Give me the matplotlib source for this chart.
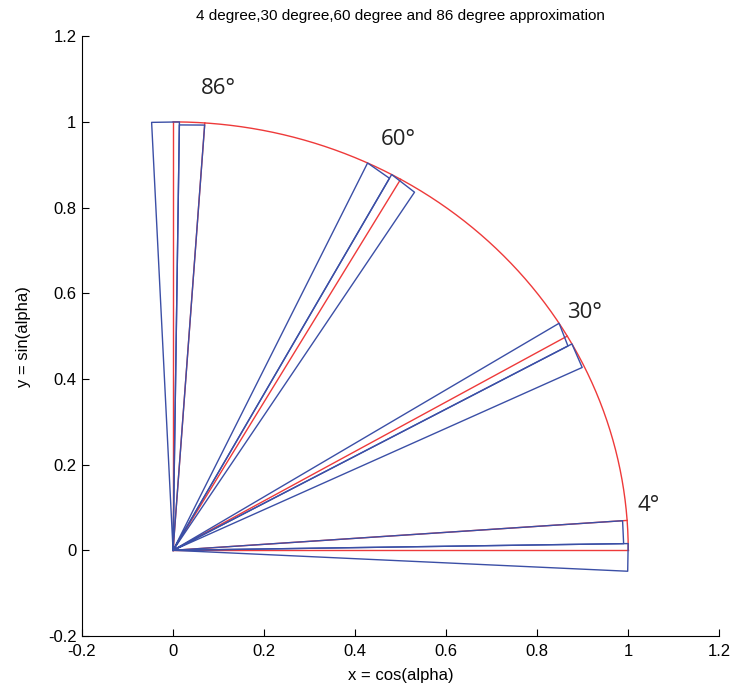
import numpy as np
import matplotlib
matplotlib.use("Agg")
import matplotlib.pyplot as plt

# target angles (red rays) in degrees, incl. the two edges of the quarter circle
red_angles = [0, 4, 30, 60, 86, 90]
label_angles = [4, 30, 60, 86]
label_x = [1.045, 0.905, 0.495, 0.10]
label_y = [0.105, 0.556, 0.958, 1.078]

# blue approximation triangles: vertices (angle deg, radius), two triangles per angle
# tri1 = origin -> p0 -> p1 -> origin, tri2 = origin -> p2 -> p3 -> origin
blue_deg_4 = [4.0, 0.9, 0.9, -2.8]
blue_r_4 = [0.99, 0.99, 1.0, 1.0]
blue_deg_30 = [32.0, 28.8, 28.8, 25.4]
blue_r_30 = [1.0, 0.99, 1.0, 0.995]
blue_deg_60 = [64.7, 61.3, 61.3, 57.6]
blue_r_60 = [1.0, 0.99, 1.0, 0.99]
blue_deg_86 = [86.0, 89.2, 89.2, 92.7]
blue_r_86 = [0.995, 0.993, 1.0, 1.0]

blue_groups = [(blue_deg_4, blue_r_4), (blue_deg_30, blue_r_30),
               (blue_deg_60, blue_r_60), (blue_deg_86, blue_r_86)]

tick_vals = [-0.2, 0, 0.2, 0.4, 0.6, 0.8, 1, 1.2]
tick_text = ["-0.2", "0", "0.2", "0.4", "0.6", "0.8", "1", "1.2"]

red = "#ee3a3a"
blue = "#3b4fa6"

fig = plt.figure(figsize=(7.35, 6.95), dpi=100)
ax = fig.add_axes([0.1116, 0.0849, 0.867, 0.863])

# quarter circle arc
t = np.radians(np.linspace(0, 90, 200))
ax.plot(np.cos(t), np.sin(t), color=red, lw=1.0)

# red rays
for a in red_angles:
    r = np.radians(a)
    ax.plot([0, np.cos(r)], [0, np.sin(r)], color=red, lw=1.0)

# blue triangles
for degs, rads in blue_groups:
    th = np.radians(degs)
    xs = np.array(rads) * np.cos(th)
    ys = np.array(rads) * np.sin(th)
    ax.plot([0, xs[0], xs[1], 0], [0, ys[0], ys[1], 0], color=blue, lw=1.0)
    ax.plot([0, xs[2], xs[3], 0], [0, ys[2], ys[3], 0], color=blue, lw=1.0)

for a, lx, ly in zip(label_angles, label_x, label_y):
    ax.text(lx, ly, f"{a}°", fontsize=16, family="Open Sans",
            ha="center", va="center", color="#222222")

ax.set_xlim(-0.2, 1.2)
ax.set_ylim(-0.2, 1.2)
ax.set_xticks(tick_vals)
ax.set_yticks(tick_vals)
ax.set_xticklabels(tick_text)
ax.set_yticklabels(tick_text)
ax.spines["top"].set_visible(False)
ax.spines["right"].set_visible(False)
ax.tick_params(direction="in", length=5, labelsize=12)
ax.tick_params(axis="x", pad=6)
ax.tick_params(axis="y", pad=4)
for lab in ax.get_xticklabels() + ax.get_yticklabels():
    lab.set_family("Liberation Sans")

ax.set_xlabel("x = cos(alpha)", fontsize=12, family="Liberation Sans", labelpad=6)
ax.set_ylabel("y = sin(alpha)", fontsize=12, family="Liberation Sans", labelpad=12)
ax.set_title("4 degree,30 degree,60 degree and 86 degree approximation",
             fontsize=11, family="Liberation Sans", pad=12)

fig.savefig("out.png", dpi=100)
